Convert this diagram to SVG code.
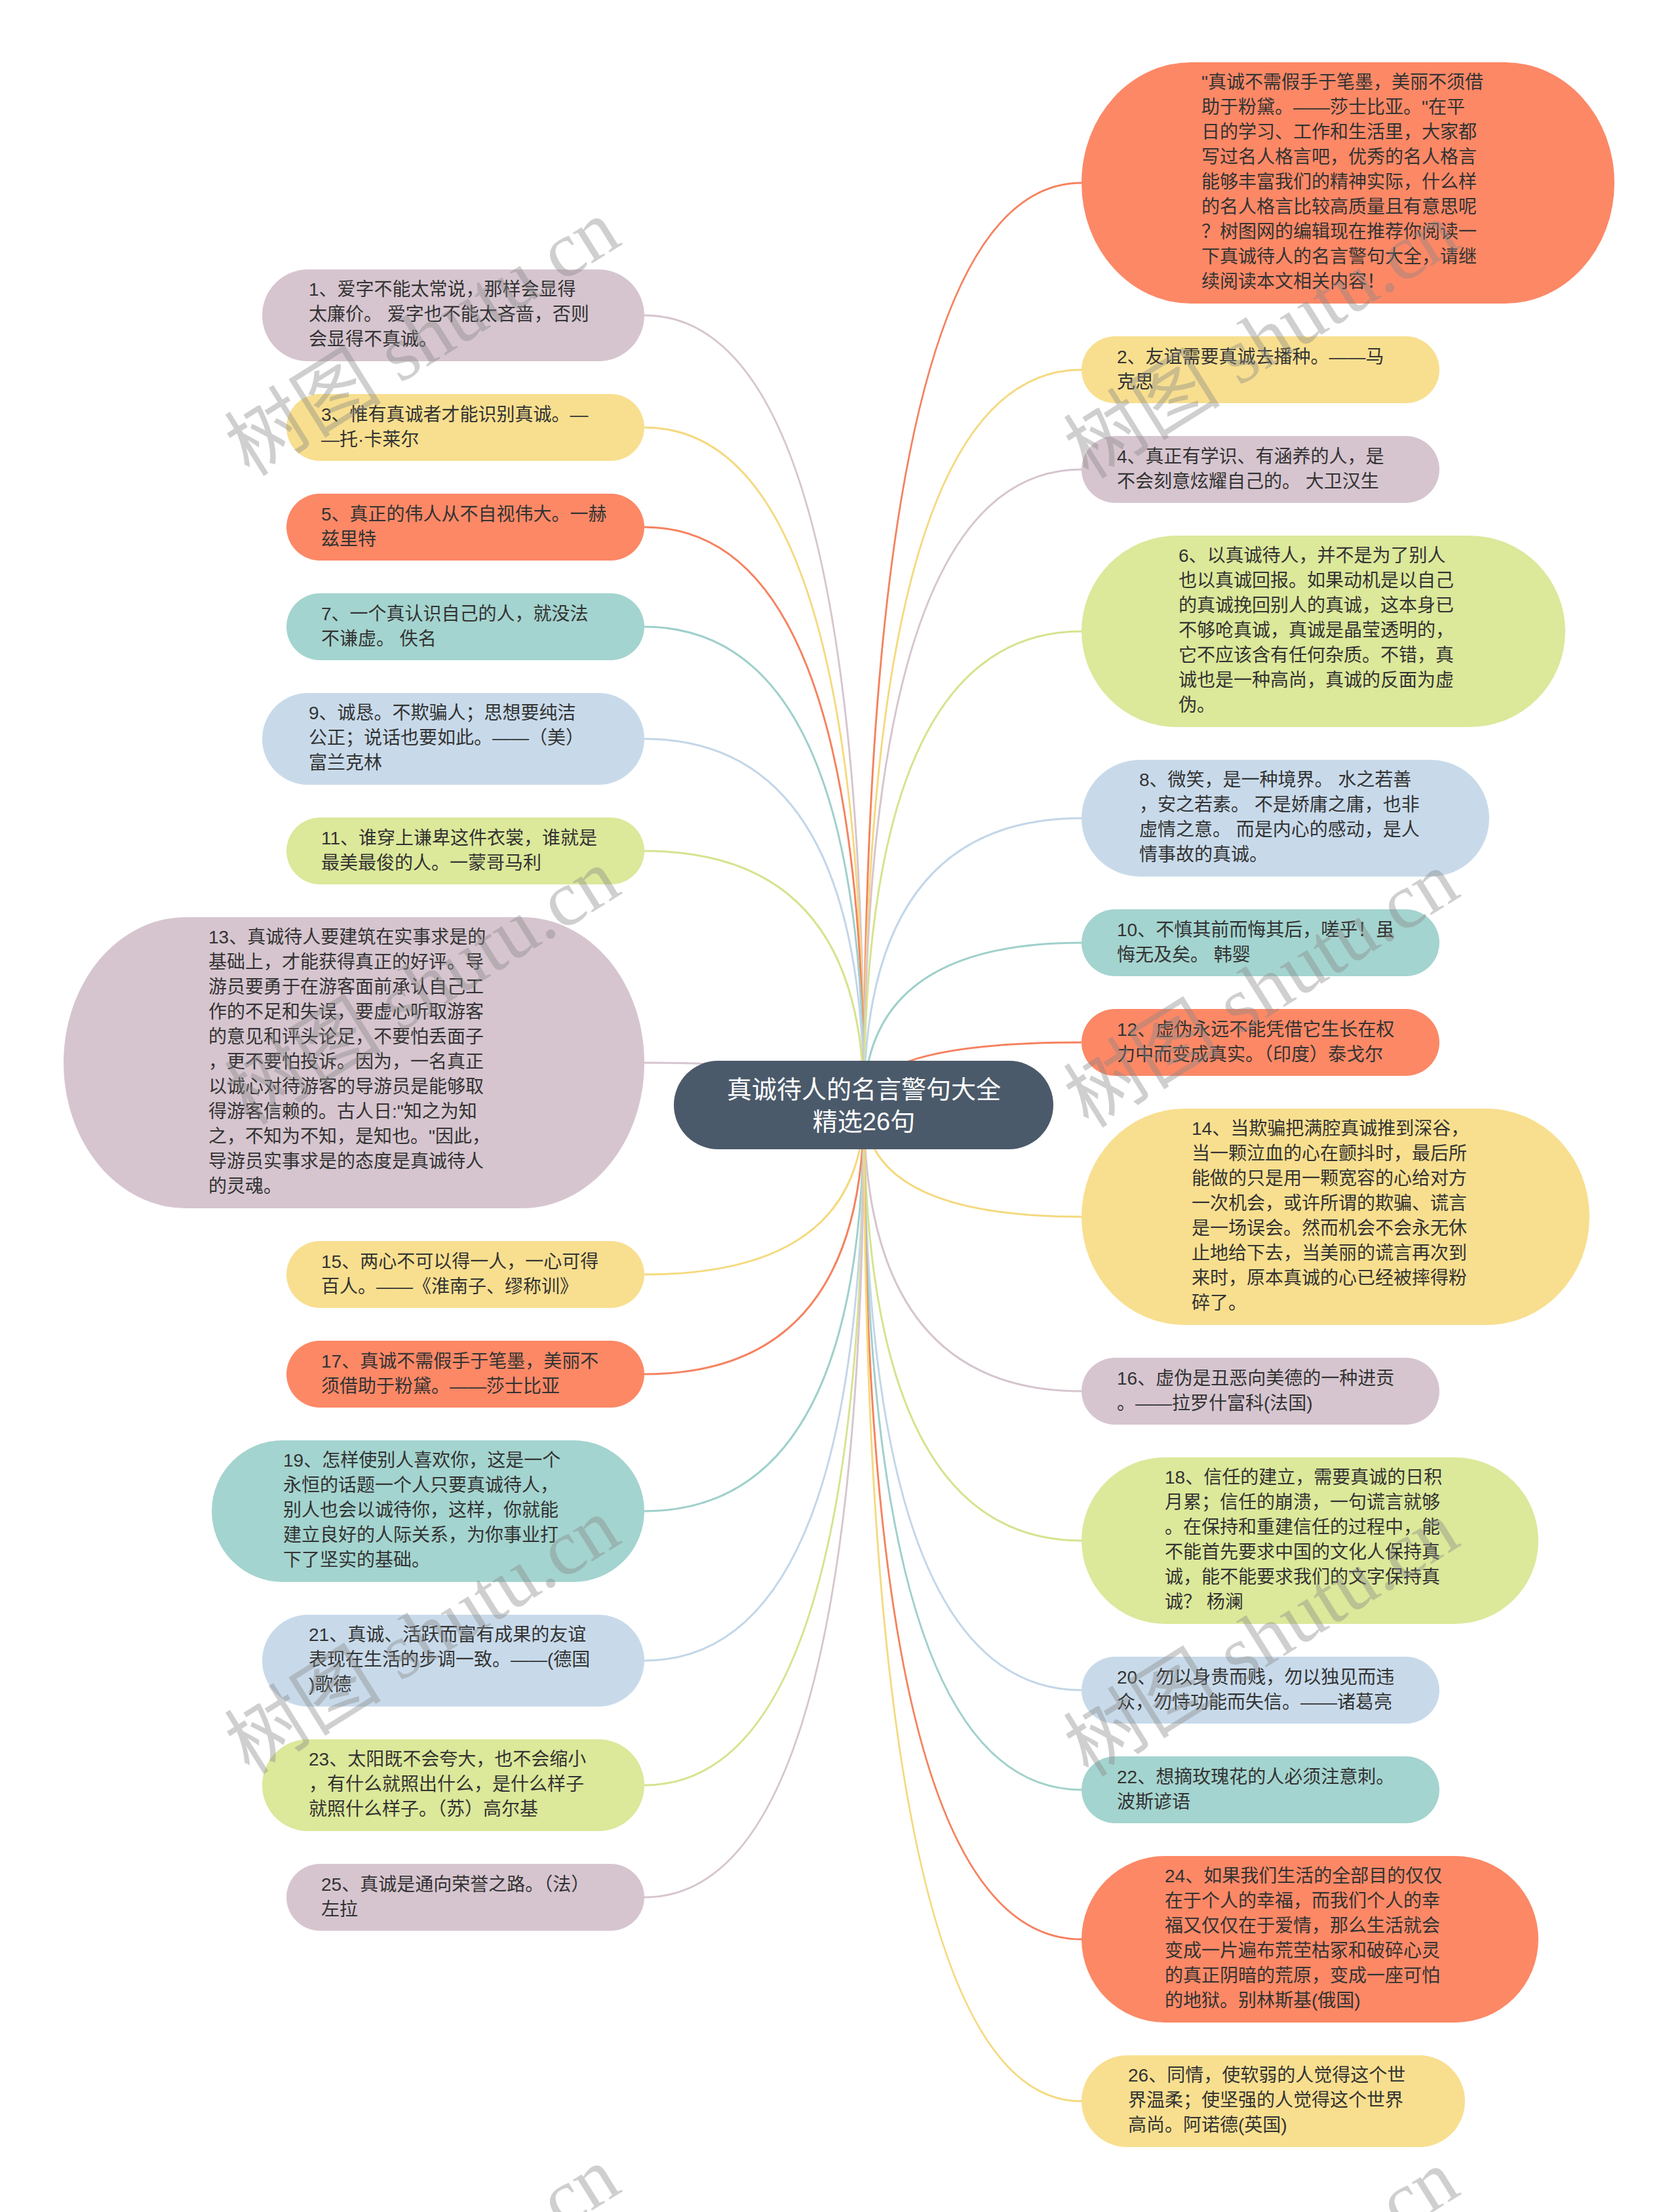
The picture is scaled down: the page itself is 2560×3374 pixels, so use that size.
<svg xmlns="http://www.w3.org/2000/svg" width="2560" height="3374" viewBox="0 0 2560 3374">
<style>
.t{font-family:"Liberation Sans","Noto Sans CJK SC",sans-serif;font-size:28px;fill:#333}
.rt{font-family:"Liberation Sans","Noto Sans CJK SC",sans-serif;font-size:38px;fill:#fff;text-anchor:middle}
.c{fill:none;stroke-width:3}
.lav{fill:#d6c5cf}.yel{fill:#f8df8f}.org{fill:#fc8866}.teal{fill:#a4d4cf}.blue{fill:#c8daea}.green{fill:#dce89a}
.slav{stroke:#d6c5cf}.syel{stroke:#f5d97f}.sorg{stroke:#f5825f}.steal{stroke:#9fd0cb}.sblue{stroke:#c3d6e8}.sgreen{stroke:#d6e38e}
.wm{font-family:"Liberation Serif","Noto Sans CJK SC",serif;font-size:120px;fill:#888;fill-opacity:0.4;text-anchor:middle}
</style>
<rect width="2560" height="3374" fill="#fff"/>
<g id="connectors">
<path class="c slav" d="M1318,1686 Q1318,481 983,481"/>
<path class="c syel" d="M1318,1686 Q1318,652 983,652"/>
<path class="c sorg" d="M1318,1686 Q1318,804 983,804"/>
<path class="c steal" d="M1318,1686 Q1318,956 983,956"/>
<path class="c sblue" d="M1318,1686 Q1318,1127 983,1127"/>
<path class="c sgreen" d="M1318,1686 Q1318,1298 983,1298"/>
<path class="c slav" d="M1318,1686 Q1318,1621 983,1621"/>
<path class="c syel" d="M1318,1686 Q1318,1944 983,1944"/>
<path class="c sorg" d="M1318,1686 Q1318,2096 983,2096"/>
<path class="c steal" d="M1318,1686 Q1318,2305 983,2305"/>
<path class="c sblue" d="M1318,1686 Q1318,2533 983,2533"/>
<path class="c sgreen" d="M1318,1686 Q1318,2723 983,2723"/>
<path class="c slav" d="M1318,1686 Q1318,2894 983,2894"/>
<path class="c sorg" d="M1318,1686 Q1318,279 1650,279"/>
<path class="c syel" d="M1318,1686 Q1318,564 1650,564"/>
<path class="c slav" d="M1318,1686 Q1318,716 1650,716"/>
<path class="c sgreen" d="M1318,1686 Q1318,963 1650,963"/>
<path class="c sblue" d="M1318,1686 Q1318,1248 1650,1248"/>
<path class="c steal" d="M1318,1686 Q1318,1438 1650,1438"/>
<path class="c sorg" d="M1318,1686 Q1318,1590 1650,1590"/>
<path class="c syel" d="M1318,1686 Q1318,1856 1650,1856"/>
<path class="c slav" d="M1318,1686 Q1318,2122 1650,2122"/>
<path class="c sgreen" d="M1318,1686 Q1318,2350 1650,2350"/>
<path class="c sblue" d="M1318,1686 Q1318,2578 1650,2578"/>
<path class="c steal" d="M1318,1686 Q1318,2730 1650,2730"/>
<path class="c sorg" d="M1318,1686 Q1318,2958 1650,2958"/>
<path class="c syel" d="M1318,1686 Q1318,3205 1650,3205"/>
</g>
<g id="root">
<rect x="1028" y="1618" width="579" height="135" rx="67.5" fill="#4b5a6a"/>
<text class="rt"><tspan x="1318" y="1675">真诚待人的名言警句大全</tspan><tspan x="1318" y="1724">精选26句</tspan></text>
</g>
<g id="n1"><rect class="lav" x="400" y="411" width="583" height="140" rx="70"/>
<text class="t"><tspan x="471" y="451">1、爱字不能太常说，那样会显得</tspan><tspan x="471" dy="38">太廉价。 爱字也不能太吝啬，否则</tspan><tspan x="471" dy="38">会显得不真诚。</tspan></text></g>
<g id="n3"><rect class="yel" x="437" y="601" width="546" height="102" rx="51"/>
<text class="t"><tspan x="490" y="642">3、惟有真诚者才能识别真诚。—</tspan><tspan x="490" dy="38">—托·卡莱尔</tspan></text></g>
<g id="n5"><rect class="org" x="437" y="753" width="546" height="102" rx="51"/>
<text class="t"><tspan x="490" y="794">5、真正的伟人从不自视伟大。一赫</tspan><tspan x="490" dy="38">兹里特</tspan></text></g>
<g id="n7"><rect class="teal" x="437" y="905" width="546" height="102" rx="51"/>
<text class="t"><tspan x="490" y="946">7、一个真认识自己的人，就没法</tspan><tspan x="490" dy="38">不谦虚。 佚名</tspan></text></g>
<g id="n9"><rect class="blue" x="400" y="1057" width="583" height="140" rx="70"/>
<text class="t"><tspan x="471" y="1097">9、诚恳。不欺骗人；思想要纯洁</tspan><tspan x="471" dy="38">公正；说话也要如此。——（美）</tspan><tspan x="471" dy="38">富兰克林</tspan></text></g>
<g id="n11"><rect class="green" x="437" y="1247" width="546" height="102" rx="51"/>
<text class="t"><tspan x="490" y="1288">11、谁穿上谦卑这件衣裳，谁就是</tspan><tspan x="490" dy="38">最美最俊的人。一蒙哥马利</tspan></text></g>
<g id="n13"><rect class="lav" x="97" y="1399" width="886" height="444" rx="186" ry="222"/>
<text class="t"><tspan x="318" y="1439">13、真诚待人要建筑在实事求是的</tspan><tspan x="318" dy="38">基础上，才能获得真正的好评。导</tspan><tspan x="318" dy="38">游员要勇于在游客面前承认自己工</tspan><tspan x="318" dy="38">作的不足和失误，要虚心听取游客</tspan><tspan x="318" dy="38">的意见和评头论足，不要怕丢面子</tspan><tspan x="318" dy="38">，更不要怕投诉。因为，一名真正</tspan><tspan x="318" dy="38">以诚心对待游客的导游员是能够取</tspan><tspan x="318" dy="38">得游客信赖的。古人日:"知之为知</tspan><tspan x="318" dy="38">之，不知为不知，是知也。"因此，</tspan><tspan x="318" dy="38">导游员实事求是的态度是真诚待人</tspan><tspan x="318" dy="38">的灵魂。</tspan></text></g>
<g id="n15"><rect class="yel" x="437" y="1893" width="546" height="102" rx="51"/>
<text class="t"><tspan x="490" y="1934">15、两心不可以得一人，一心可得</tspan><tspan x="490" dy="38">百人。——《淮南子、缪称训》</tspan></text></g>
<g id="n17"><rect class="org" x="437" y="2045" width="546" height="102" rx="51"/>
<text class="t"><tspan x="490" y="2086">17、真诚不需假手于笔墨，美丽不</tspan><tspan x="490" dy="38">须借助于粉黛。——莎士比亚</tspan></text></g>
<g id="n19"><rect class="teal" x="323" y="2197" width="660" height="216" rx="108"/>
<text class="t"><tspan x="432" y="2237">19、怎样使别人喜欢你，这是一个</tspan><tspan x="432" dy="38">永恒的话题一个人只要真诚待人，</tspan><tspan x="432" dy="38">别人也会以诚待你，这样，你就能</tspan><tspan x="432" dy="38">建立良好的人际关系，为你事业打</tspan><tspan x="432" dy="38">下了坚实的基础。</tspan></text></g>
<g id="n21"><rect class="blue" x="400" y="2463" width="583" height="140" rx="70"/>
<text class="t"><tspan x="471" y="2503">21、真诚、活跃而富有成果的友谊</tspan><tspan x="471" dy="38">表现在生活的步调一致。——(德国</tspan><tspan x="471" dy="38">)歌德</tspan></text></g>
<g id="n23"><rect class="green" x="400" y="2653" width="583" height="140" rx="70"/>
<text class="t"><tspan x="471" y="2693">23、太阳既不会夸大，也不会缩小</tspan><tspan x="471" dy="38">，有什么就照出什么，是什么样子</tspan><tspan x="471" dy="38">就照什么样子。（苏）高尔基</tspan></text></g>
<g id="n25"><rect class="lav" x="437" y="2843" width="546" height="102" rx="51"/>
<text class="t"><tspan x="490" y="2884">25、真诚是通向荣誉之路。（法）</tspan><tspan x="490" dy="38">左拉</tspan></text></g>
<g id="intro"><rect class="org" x="1650" y="95" width="813" height="368" rx="167" ry="184"/>
<text class="t"><tspan x="1833" y="135">"真诚不需假手于笔墨，美丽不须借</tspan><tspan x="1833" dy="38">助于粉黛。——莎士比亚。"在平</tspan><tspan x="1833" dy="38">日的学习、工作和生活里，大家都</tspan><tspan x="1833" dy="38">写过名人格言吧，优秀的名人格言</tspan><tspan x="1833" dy="38">能够丰富我们的精神实际，什么样</tspan><tspan x="1833" dy="38">的名人格言比较高质量且有意思呢</tspan><tspan x="1833" dy="38">？树图网的编辑现在推荐你阅读一</tspan><tspan x="1833" dy="38">下真诚待人的名言警句大全，请继</tspan><tspan x="1833" dy="38">续阅读本文相关内容！</tspan></text></g>
<g id="n2"><rect class="yel" x="1650" y="513" width="546" height="102" rx="51"/>
<text class="t"><tspan x="1704" y="554">2、友谊需要真诚去播种。——马</tspan><tspan x="1704" dy="38">克思</tspan></text></g>
<g id="n4"><rect class="lav" x="1650" y="665" width="546" height="102" rx="51"/>
<text class="t"><tspan x="1704" y="706">4、真正有学识、有涵养的人，是</tspan><tspan x="1704" dy="38">不会刻意炫耀自己的。 大卫汉生</tspan></text></g>
<g id="n6"><rect class="green" x="1650" y="817" width="738" height="292" rx="146"/>
<text class="t"><tspan x="1798" y="857">6、以真诚待人，并不是为了别人</tspan><tspan x="1798" dy="38">也以真诚回报。如果动机是以自己</tspan><tspan x="1798" dy="38">的真诚挽回别人的真诚，这本身已</tspan><tspan x="1798" dy="38">不够呛真诚，真诚是晶莹透明的，</tspan><tspan x="1798" dy="38">它不应该含有任何杂质。不错，真</tspan><tspan x="1798" dy="38">诚也是一种高尚，真诚的反面为虚</tspan><tspan x="1798" dy="38">伪。</tspan></text></g>
<g id="n8"><rect class="blue" x="1650" y="1159" width="622" height="178" rx="89"/>
<text class="t"><tspan x="1738" y="1199">8、微笑，是一种境界。 水之若善</tspan><tspan x="1738" dy="38">，安之若素。 不是娇庸之庸，也非</tspan><tspan x="1738" dy="38">虚情之意。 而是内心的感动，是人</tspan><tspan x="1738" dy="38">情事故的真诚。</tspan></text></g>
<g id="n10"><rect class="teal" x="1650" y="1387" width="546" height="102" rx="51"/>
<text class="t"><tspan x="1704" y="1428">10、不慎其前而悔其后，嗟乎！虽</tspan><tspan x="1704" dy="38">悔无及矣。 韩婴</tspan></text></g>
<g id="n12"><rect class="org" x="1650" y="1539" width="546" height="102" rx="51"/>
<text class="t"><tspan x="1704" y="1580">12、虚伪永远不能凭借它生长在权</tspan><tspan x="1704" dy="38">力中而变成真实。（印度）泰戈尔</tspan></text></g>
<g id="n14"><rect class="yel" x="1650" y="1691" width="775" height="330" rx="157" ry="165"/>
<text class="t"><tspan x="1818" y="1731">14、当欺骗把满腔真诚推到深谷，</tspan><tspan x="1818" dy="38">当一颗泣血的心在颤抖时，最后所</tspan><tspan x="1818" dy="38">能做的只是用一颗宽容的心给对方</tspan><tspan x="1818" dy="38">一次机会，或许所谓的欺骗、谎言</tspan><tspan x="1818" dy="38">是一场误会。然而机会不会永无休</tspan><tspan x="1818" dy="38">止地给下去，当美丽的谎言再次到</tspan><tspan x="1818" dy="38">来时，原本真诚的心已经被摔得粉</tspan><tspan x="1818" dy="38">碎了。</tspan></text></g>
<g id="n16"><rect class="lav" x="1650" y="2071" width="546" height="102" rx="51"/>
<text class="t"><tspan x="1704" y="2112">16、虚伪是丑恶向美德的一种进贡</tspan><tspan x="1704" dy="38">。——拉罗什富科(法国)</tspan></text></g>
<g id="n18"><rect class="green" x="1650" y="2223" width="697" height="254" rx="127"/>
<text class="t"><tspan x="1777" y="2263">18、信任的建立，需要真诚的日积</tspan><tspan x="1777" dy="38">月累；信任的崩溃，一句谎言就够</tspan><tspan x="1777" dy="38">。在保持和重建信任的过程中，能</tspan><tspan x="1777" dy="38">不能首先要求中国的文化人保持真</tspan><tspan x="1777" dy="38">诚，能不能要求我们的文字保持真</tspan><tspan x="1777" dy="38">诚？ 杨澜</tspan></text></g>
<g id="n20"><rect class="blue" x="1650" y="2527" width="546" height="102" rx="51"/>
<text class="t"><tspan x="1704" y="2568">20、勿以身贵而贱，勿以独见而违</tspan><tspan x="1704" dy="38">众，勿恃功能而失信。——诸葛亮</tspan></text></g>
<g id="n22"><rect class="teal" x="1650" y="2679" width="546" height="102" rx="51"/>
<text class="t"><tspan x="1704" y="2720">22、想摘玫瑰花的人必须注意刺。</tspan><tspan x="1704" dy="38">波斯谚语</tspan></text></g>
<g id="n24"><rect class="org" x="1650" y="2831" width="697" height="254" rx="127"/>
<text class="t"><tspan x="1777" y="2871">24、如果我们生活的全部目的仅仅</tspan><tspan x="1777" dy="38">在于个人的幸福，而我们个人的幸</tspan><tspan x="1777" dy="38">福又仅仅在于爱情，那么生活就会</tspan><tspan x="1777" dy="38">变成一片遍布荒茔枯冢和破碎心灵</tspan><tspan x="1777" dy="38">的真正阴暗的荒原，变成一座可怕</tspan><tspan x="1777" dy="38">的地狱。别林斯基(俄国)</tspan></text></g>
<g id="n26"><rect class="yel" x="1650" y="3135" width="585" height="140" rx="70"/>
<text class="t"><tspan x="1721" y="3175">26、同情，使软弱的人觉得这个世</tspan><tspan x="1721" dy="38">界温柔；使坚强的人觉得这个世界</tspan><tspan x="1721" dy="38">高尚。阿诺德(英国)</tspan></text></g>
<g id="watermarks">
<text class="wm" transform="translate(645,516) rotate(-32)" dy="40">树图 shutu.cn</text>
<text class="wm" transform="translate(1925,520) rotate(-32)" dy="40">树图 shutu.cn</text>
<text class="wm" transform="translate(645,1506) rotate(-32)" dy="40">树图 shutu.cn</text>
<text class="wm" transform="translate(1925,1510) rotate(-32)" dy="40">树图 shutu.cn</text>
<text class="wm" transform="translate(645,2496) rotate(-32)" dy="40">树图 shutu.cn</text>
<text class="wm" transform="translate(1925,2500) rotate(-32)" dy="40">树图 shutu.cn</text>
<text class="wm" transform="translate(645,3486) rotate(-32)" dy="40">树图 shutu.cn</text>
<text class="wm" transform="translate(1925,3490) rotate(-32)" dy="40">树图 shutu.cn</text>
</g>
</svg>
